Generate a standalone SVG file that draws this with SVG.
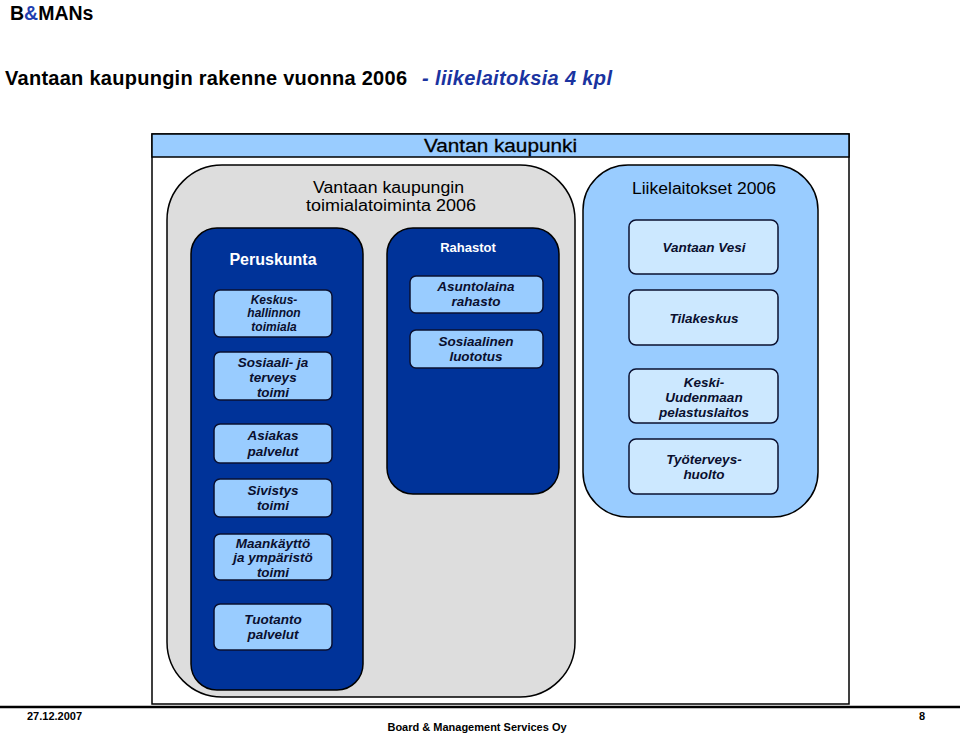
<svg xmlns="http://www.w3.org/2000/svg" width="960" height="735" viewBox="0 0 960 735">
<style>
text{font-family:"Liberation Sans",Arial,sans-serif;}
.frame{fill:#fff;stroke:#000;stroke-width:1.5}
.band{fill:#99ccff;stroke:#000;stroke-width:1.5}
.gray{fill:#dddddd;stroke:#000;stroke-width:1.5}
.dark{fill:#003399;stroke:#000;stroke-width:1.5}
.lk{fill:#99ccff;stroke:#000;stroke-width:1.5}
.item{fill:#99ccff;stroke:#0a1030;stroke-width:1.5}
.item2{fill:#cce8ff;stroke:#0a1030;stroke-width:1.5}
.it{font-size:12px;font-weight:bold;font-style:italic;fill:#0a0f2e;text-anchor:middle}
.it2{font-size:13.5px;font-weight:bold;font-style:italic;fill:#0a0f2e;text-anchor:middle}
</style>
<text x="10" y="20" font-size="19.5" font-weight="bold" fill="#000">B<tspan fill="#1f3fb0">&amp;</tspan>MANs</text>
<text x="5" y="85" font-size="20" font-weight="bold" fill="#000" textLength="402" lengthAdjust="spacing">Vantaan kaupungin rakenne vuonna 2006</text>
<text x="422" y="85" font-size="20" font-weight="bold" font-style="italic" fill="#1a33a0" textLength="190" lengthAdjust="spacing">- liikelaitoksia 4 kpl</text>

<g id="vantan-kaupunki">
<rect class="frame" x="152" y="134" width="697" height="570"/>
<rect class="band" x="152" y="134" width="697" height="23"/>
<text x="424" y="152" font-size="19" fill="#000" stroke="#000" stroke-width="0.3" textLength="153" lengthAdjust="spacingAndGlyphs">Vantan kaupunki</text>
</g>

<g id="toimialatoiminta">
<rect class="gray" x="167" y="165" width="408" height="532" rx="55" ry="55"/>
<text x="313" y="193" font-size="16" fill="#000" textLength="151" lengthAdjust="spacingAndGlyphs">Vantaan kaupungin</text>
<text x="306" y="211" font-size="16" fill="#000" textLength="170" lengthAdjust="spacingAndGlyphs">toimialatoiminta 2006</text>
</g>

<g id="peruskunta">
<rect class="dark" x="191" y="228" width="172" height="462" rx="26" ry="26"/>
<text x="273" y="265" font-size="16" font-weight="bold" fill="#fff" text-anchor="middle">Peruskunta</text>
</g>
<g id="keskushallinnon">
<rect class="item" x="214" y="290" width="118" height="47" rx="6"/>
<text class="it" x="274" y="304">Keskus-</text>
<text class="it" x="274" y="317">hallinnon</text>
<text class="it" x="274" y="331">toimiala</text>
</g>
<g id="sosiaali">
<rect class="item" x="214" y="352" width="118" height="48" rx="6"/>
<text class="it2" x="273" y="367">Sosiaali- ja</text>
<text class="it2" x="273" y="382">terveys</text>
<text class="it2" x="273" y="397">toimi</text>
</g>
<g id="asiakas">
<rect class="item" x="214" y="424" width="118" height="39" rx="6"/>
<text class="it2" x="273" y="440">Asiakas</text>
<text class="it2" x="273" y="456">palvelut</text>
</g>
<g id="sivistys">
<rect class="item" x="214" y="479" width="118" height="38" rx="6"/>
<text class="it2" x="273" y="495">Sivistys</text>
<text class="it2" x="273" y="510">toimi</text>
</g>
<g id="maankaytto">
<rect class="item" x="214" y="534" width="118" height="46" rx="6"/>
<text class="it2" x="273" y="548">Maankäyttö</text>
<text class="it2" x="273" y="562">ja ympäristö</text>
<text class="it2" x="273" y="577">toimi</text>
</g>
<g id="tuotanto">
<rect class="item" x="214" y="604" width="118" height="46" rx="6"/>
<text class="it2" x="273" y="624">Tuotanto</text>
<text class="it2" x="273" y="639">palvelut</text>
</g>

<g id="rahastot">
<rect class="dark" x="387" y="228" width="172" height="266" rx="26" ry="26"/>
<text x="468" y="252" font-size="13" font-weight="bold" fill="#fff" text-anchor="middle">Rahastot</text>
</g>
<g id="asuntolaina">
<rect class="item" x="410" y="276" width="133" height="37" rx="6"/>
<text class="it2" x="476" y="291">Asuntolaina</text>
<text class="it2" x="476" y="306">rahasto</text>
</g>
<g id="sosiaalinen">
<rect class="item" x="410" y="330" width="133" height="38" rx="6"/>
<text class="it2" x="476" y="346">Sosiaalinen</text>
<text class="it2" x="476" y="361">luototus</text>
</g>

<g id="liikelaitokset">
<rect class="lk" x="583" y="165" width="235" height="352" rx="45" ry="45"/>
<text x="632" y="194" font-size="16" fill="#000" textLength="144" lengthAdjust="spacingAndGlyphs">Liikelaitokset 2006</text>
</g>
<g id="vantaan-vesi">
<rect class="item2" x="629" y="220" width="149" height="54" rx="7"/>
<text class="it2" x="704" y="252">Vantaan Vesi</text>
</g>
<g id="tilakeskus">
<rect class="item2" x="629" y="290" width="149" height="55" rx="7"/>
<text class="it2" x="704" y="323">Tilakeskus</text>
</g>
<g id="keski-uudenmaan">
<rect class="item2" x="629" y="369" width="149" height="54" rx="7"/>
<text class="it2" x="704" y="387">Keski-</text>
<text class="it2" x="704" y="402">Uudenmaan</text>
<text class="it2" x="704" y="417">pelastuslaitos</text>
</g>
<g id="tyoterveys">
<rect class="item2" x="629" y="439" width="149" height="55" rx="7"/>
<text class="it2" x="704" y="464">Työterveys-</text>
<text class="it2" x="704" y="479">huolto</text>
</g>

<g id="connectors"></g>

<line x1="0" y1="707" x2="960" y2="707" stroke="#000" stroke-width="2.5"/>
<text x="27" y="720" font-size="11" font-weight="bold" fill="#000">27.12.2007</text>
<text x="925" y="720" font-size="11" font-weight="bold" fill="#000" text-anchor="end">8</text>
<text x="477" y="731" font-size="11" font-weight="bold" fill="#000" text-anchor="middle">Board &amp; Management Services Oy</text>
</svg>
